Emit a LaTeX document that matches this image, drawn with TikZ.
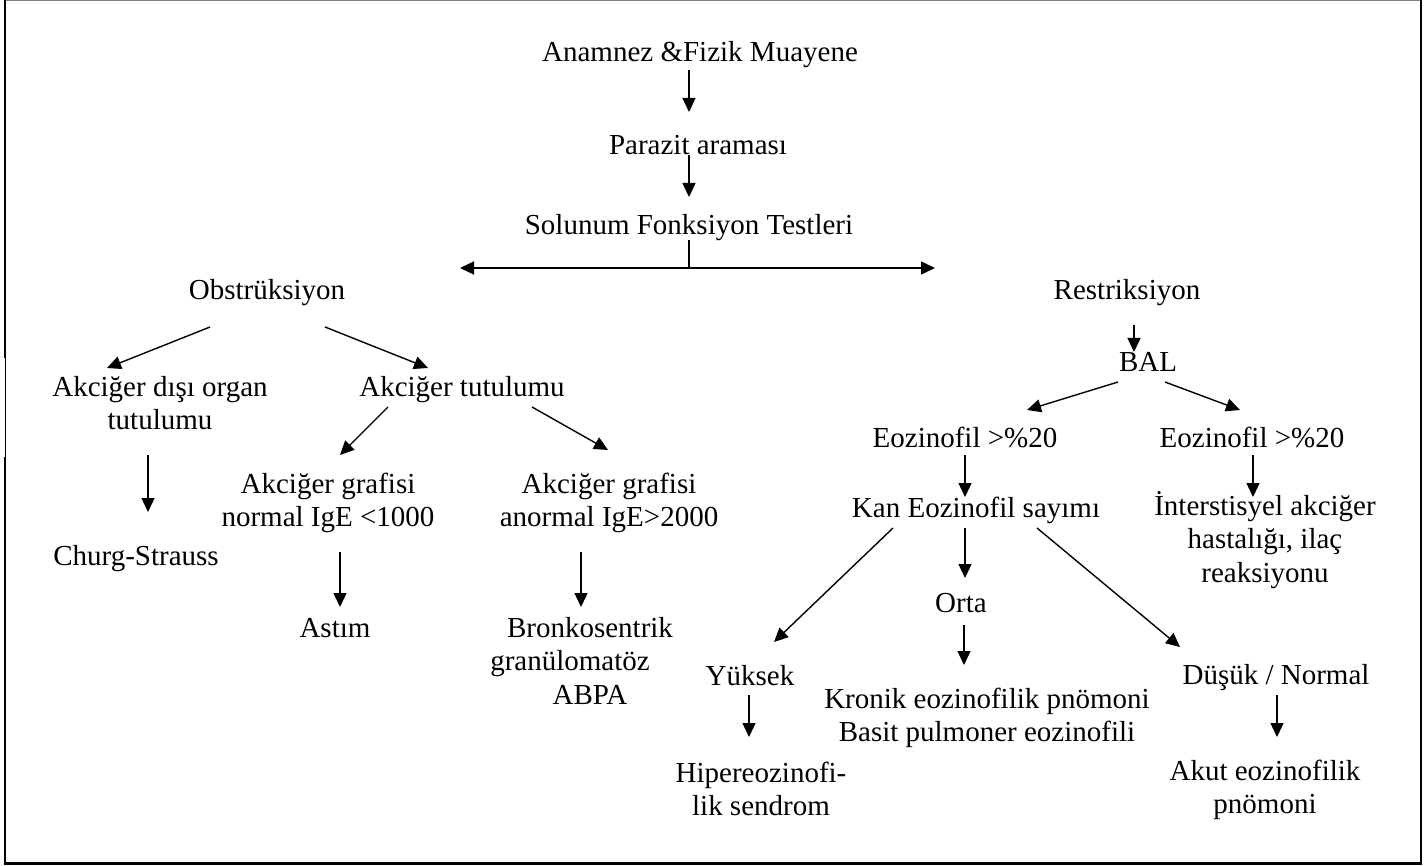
\documentclass[tikz,border=0pt]{standalone}
\usepackage{fontspec}
\setmainfont{Liberation Serif}
\usetikzlibrary{arrows.meta,calc}
\newcommand{\mlines}[1]{\begin{tabular}[t]{@{}c@{}}#1\end{tabular}}
\tikzset{
  lbl/.style={font=\fontsize{29}{33.5}\selectfont, inner sep=0pt, anchor=base},
  arr/.style={line width=1.4pt, -{Triangle[length=14pt,width=13pt]}},
  plain/.style={line width=1.4pt},
}
\begin{document}
\begin{tikzpicture}[x=1pt,y=-1pt]
\useasboundingbox (0,0) rectangle (1427,866);
% frame
\draw[gray, line width=1pt] (4,0.5) -- (1422,0.5);
\draw[line width=2pt] (5,0) -- (5,358);
\draw[line width=1pt] (5,358) -- (5,457);
\draw[line width=2pt] (5,457) -- (5,864);
\draw[line width=2.5pt] (1421,0) -- (1421,865);
\draw[line width=2.5pt] (4,863.5) -- (1422.2,863.5);

% nodes
\node[lbl] (anam) at (700,62) {Anamnez \&Fizik Muayene};
\node[lbl] (para) at (698,155) {Parazit araması};
\node[lbl] (sft) at (689,235) {Solunum Fonksiyon Testleri};
\node[lbl] (obs) at (267,300) {Obstrüksiyon};
\node[lbl] (res) at (1127,300) {Restriksiyon};
\node[lbl] (dis) at (160,396) {\mlines{Akciğer dışı organ\\tutulumu}};
\node[lbl] (tut) at (462,396) {Akciğer tutulumu};
\node[lbl] (cs) at (136,565) {Churg-Strauss};
\node[lbl] (gnorm) at (328,493) {\mlines{Akciğer grafisi\\normal IgE <1000}};
\node[lbl] (ganor) at (609,493) {\mlines{Akciğer grafisi\\anormal IgE>2000}};
\node[lbl] (astim) at (335,637) {Astım};
\node[lbl] (bronk) at (590,637) {\mlines{Bronkosentrik\\granülomatöz\hspace*{40pt}\\ABPA}};
\node[lbl] (bal) at (1148,372) {BAL};
\node[lbl] (eozL) at (965,447) {Eozinofil >\%20};
\node[lbl] (eozR) at (1252,447) {Eozinofil >\%20};
\node[lbl] (kan) at (976,517) {Kan Eozinofil sayımı};
\node[lbl] (inter) at (1265,515) {\mlines{İnterstisyel akciğer\\hastalığı, ilaç\\reaksiyonu}};
\node[lbl] (orta) at (961,612) {Orta};
\node[lbl] (yuk) at (750,685) {Yüksek};
\node[lbl] (dus) at (1276,684) {Düşük / Normal};
\node[lbl] (kron) at (987,708) {\mlines{Kronik eozinofilik pnömoni\\Basit pulmoner eozinofili}};
\node[lbl] (hiper) at (761,782) {\mlines{Hipereozinofi-\\lik sendrom}};
\node[lbl] (akut) at (1265,780) {\mlines{Akut eozinofilik\\pnömoni}};

% connectors
\draw[arr] ($(anam.base)+(-11,8)$) -- ($(para.base)+(-9,-43)$);
\draw[arr] ($(para.base)+(-9,0)$) -- ($(sft.base)+(0,-38)$);
\coordinate (split) at ($(sft.base)+(0,33)$);
\coordinate (obsend) at ($(split)+(-229,0)$);
\coordinate (resend) at ($(split)+(246,0)$);
\draw[plain] ($(sft.base)+(0,5)$) -- (split);
\draw[arr] (split) -- (obsend);
\draw[arr] (split) -- (resend);

\draw[arr] ($(obs.base)+(-57,27)$) -- ($(dis.base)+(-53,-28)$);
\draw[arr] ($(obs.base)+(58,27)$) -- ($(tut.base)+(-34,-28)$);
\draw[arr] ($(dis.base)+(-12,59)$) -- ($(cs.base)+(12,-53)$);
\draw[arr] ($(tut.base)+(-74,11)$) -- ($(gnorm.base)+(12,-38)$);
\draw[arr] ($(tut.base)+(70,11)$) -- ($(ganor.base)+(-1,-43)$);
\draw[arr] ($(gnorm.base)+(12,59)$) -- ($(astim.base)+(5,-30)$);
\draw[arr] ($(ganor.base)+(-28,59)$) -- ($(bronk.base)+(-9,-30)$);

\draw[arr] ($(res.base)+(7,25)$) -- ($(bal.base)+(-14,-20)$);
\draw[arr] ($(bal.base)+(-30,10)$) -- ($(eozL.base)+(62,-37)$);
\draw[arr] ($(bal.base)+(17,10)$) -- ($(eozR.base)+(-12,-37)$);
\draw[arr] ($(eozL.base)+(0,8)$) -- ($(kan.base)+(-11,-20)$);
\draw[arr] ($(eozR.base)+(1,8)$) -- ($(inter.base)+(-12,-18)$);
\draw[arr] ($(kan.base)+(-11,11)$) -- ($(orta.base)+(4,-34)$);
\draw[arr] ($(kan.base)+(-83,11)$) -- ($(yuk.base)+(24,-43)$);
\draw[arr] ($(kan.base)+(61,11)$) -- ($(dus.base)+(-96,-37)$);
\draw[arr] ($(orta.base)+(3,13)$) -- ($(kron.base)+(-23,-43)$);
\draw[arr] ($(yuk.base)+(-1,10)$) -- ($(hiper.base)+(-12,-45)$);
\draw[arr] ($(dus.base)+(1,11)$) -- ($(akut.base)+(12,-43)$);
\end{tikzpicture}
\end{document}
